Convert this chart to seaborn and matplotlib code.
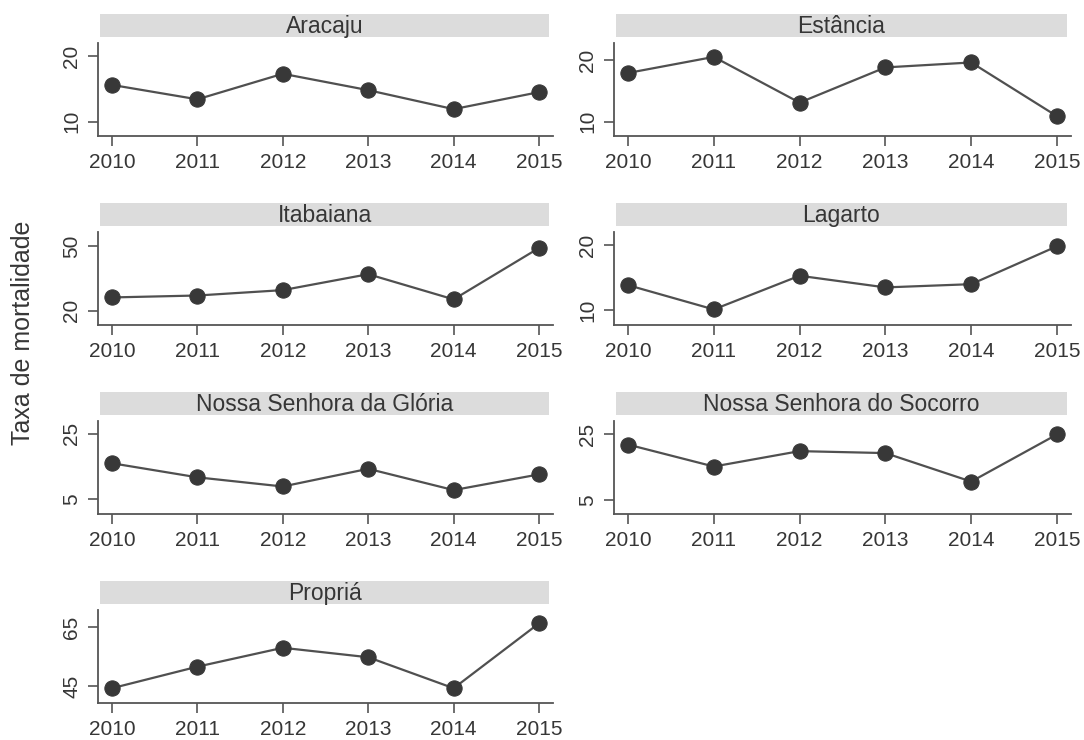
import matplotlib
matplotlib.use("Agg")
import matplotlib.pyplot as plt
import seaborn as sns
import pandas as pd

# ---- data ----
years = [2010, 2011, 2012, 2013, 2014, 2015]
cities = ["Aracaju", "Estância", "Itabaiana", "Lagarto",
          "Nossa Senhora da Glória", "Nossa Senhora do Socorro", "Propriá"]
aracaju = [15.6, 13.4, 17.3, 14.8, 11.9, 14.5]
estancia = [17.9, 20.5, 13.1, 18.8, 19.6, 10.9]
itabaiana = [26.2, 27.1, 29.6, 37.0, 25.3, 49.2]
lagarto = [13.85, 10.1, 15.3, 13.5, 14.0, 19.85]
ns_gloria = [16.0, 11.7, 8.9, 14.3, 7.8, 12.6]
ns_socorro = [21.9, 15.2, 19.9, 19.3, 10.6, 25.0]
propria = [44.4, 51.7, 58.1, 54.9, 44.4, 66.4]
series = [aracaju, estancia, itabaiana, lagarto, ns_gloria, ns_socorro, propria]

yticks = [[10, 20], [10, 20], [20, 50], [10, 20], [5, 25], [5, 25], [45, 65]]
ylims = [(7.8, 22.0), (7.7, 22.75), (13.4, 56.6), (7.7, 22.05),
         (0.5, 28.9), (0.7, 29.1), (39.4, 70.9)]
ylabel = "Taxa de mortalidade"

df = pd.DataFrame({
    "ano": years * len(cities),
    "taxa": [v for s in series for v in s],
    "cidade": [c for c in cities for _ in years],
})

# ---- style ----
sns.set_style("white")
plt.rcParams["font.family"] = ["Liberation Sans", "DejaVu Sans"]
TXT = "#363636"
SPINE = "#555555"
STRIP = "#dcdcdc"

W, H = 1084, 740
fig = plt.figure(figsize=(W / 100, H / 100), dpi=100)

col_x = [(98, 553), (614, 1071)]
for i, city in enumerate(cities):
    r, c = divmod(i, 2)
    x0, x1 = col_x[c]
    top = 43 + 189 * r
    bot = 136 + 189 * r
    ax = fig.add_axes([x0 / W, 1 - bot / H, (x1 - x0) / W, (bot - top) / H])
    sub = df[df["cidade"] == city]
    sns.lineplot(data=sub, x="ano", y="taxa", ax=ax, color="#505050",
                 linewidth=1.6, marker="o", markersize=11,
                 markerfacecolor="#383838", markeredgecolor="#383838")
    ax.set_xlim(2010 - 0.163, 2015 + 0.163)
    ax.set_ylim(*ylims[i])
    ax.set_xticks(years)
    ax.set_xticklabels([str(y) for y in years])
    ax.set_yticks(yticks[i])
    ax.set_yticklabels([str(t) for t in yticks[i]], rotation=90, va="center")
    ax.set_xlabel("")
    ax.set_ylabel("")
    for s in ["top", "right"]:
        ax.spines[s].set_visible(False)
    for s in ["left", "bottom"]:
        ax.spines[s].set_color(SPINE)
        ax.spines[s].set_linewidth(1.3)
    ax.tick_params(axis="both", direction="out", length=7, width=1.2,
                   color=SPINE, labelsize=15, labelcolor=TXT, pad=5,
                   left=True, bottom=True)
    ax.set_facecolor("white")

    # strip header
    s_top = 14 + 189 * r
    s_bot = 37 + 189 * r
    sax = fig.add_axes([(x0 + 2) / W, 1 - s_bot / H, (x1 - x0 - 6) / W, (s_bot - s_top) / H])
    sax.set_facecolor(STRIP)
    sax.set_xticks([])
    sax.set_yticks([])
    for s in sax.spines.values():
        s.set_visible(False)
    sax.text(0.5, 0.45, city, ha="center", va="center", fontsize=16.5,
             color=TXT, transform=sax.transAxes)

fig.text(23 / W, 1 - 333 / H, ylabel, rotation=90, ha="center", va="center",
         fontsize=18, color=TXT)

fig.savefig("out.png", dpi=100, facecolor="white")
